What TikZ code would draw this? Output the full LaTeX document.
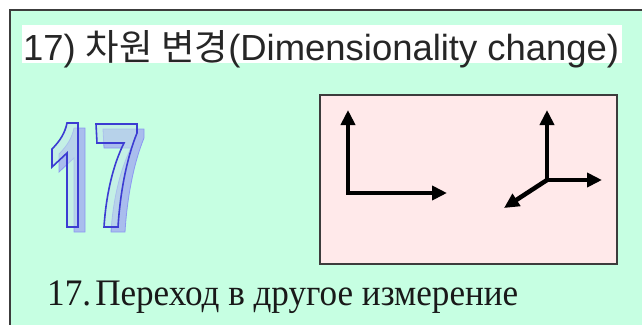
\documentclass[tikz,border=0pt]{standalone}
\usepackage{fontspec}
\usepackage{graphicx}
\setmainfont{Liberation Serif}
\newfontfamily\titlefont{Liberation Sans}
\newfontfamily\krfont{Noto Sans CJK KR}
\usetikzlibrary{arrows.meta}
\definecolor{mint}{RGB}{198,255,226}
\definecolor{pinkbox}{RGB}{255,233,234}
\definecolor{framegray}{RGB}{60,60,60}
\definecolor{digitline}{RGB}{60,60,210}
\definecolor{digitshadow}{RGB}{165,178,240}
\definecolor{digitfill}{RGB}{196,228,232}
\tikzset{
  axis/.style={line width=4.5pt,-{Triangle[length=15pt,width=14pt]}},
  shadowdigit/.style={fill=digitshadow,draw=digitshadow!80!blue,line width=0.8pt,opacity=0.85},
  maindigit/.style={fill=digitfill,fill opacity=0.55,draw=digitline,line width=1.6pt,line join=miter},
}
\begin{document}
\begin{tikzpicture}[x=1pt,y=-1pt]
\useasboundingbox (0,0) rectangle (642,324);
% outer frame
\draw[framegray,line width=1.5pt,fill=mint] (10,10) rectangle (700,380);
% title stripe
\fill[white] (22,25) rectangle (622,63);
\node[anchor=base west,inner sep=0pt,font=\titlefont\fontsize{33}{40}\selectfont,text=black!85] (title) at (23,60)
  {\resizebox{596pt}{1.1\height}{17) {\krfont 차원 변경}(Dimensionality change)}};
% big 17: shadow
\begin{scope}[shift={(7,5)}]
  \path[shadowdigit] (67,123) -- (78,123) -- (78,227) -- (67,227) -- (67,153) -- (52,167) -- (52,149)
     .. controls (60,141) and (65,133) .. cycle;
  \path[shadowdigit] (96,124) -- (137,124) -- (137,133) .. controls (126,160) and (120,195) .. (118,227)
     -- (104,227) .. controls (106,195) and (113,165) .. (124,143) -- (97,143) -- cycle;
\end{scope}
% big 17: main outline
\path[maindigit] (67,123) -- (78,123) -- (78,227) -- (67,227) -- (67,153) -- (52,167) -- (52,149)
   .. controls (60,141) and (65,133) .. cycle;
\path[maindigit] (96,124) -- (137,124) -- (137,133) .. controls (126,160) and (120,195) .. (118,227)
   -- (104,227) .. controls (106,195) and (113,165) .. (124,143) -- (97,143) -- cycle;
% pink box
\draw[framegray,line width=1.2pt,fill=pinkbox] (320,95) rectangle (617,264);
% axes
\coordinate (oA) at (348,193);
\coordinate (yA) at (348,110);
\coordinate (xA) at (447,193);
\coordinate (oB) at (547,180);
\coordinate (yB) at (547,110);
\coordinate (xB) at (602,180);
\coordinate (zB) at (504,208);
\draw[axis] (oA) -- (yA);
\draw[axis] (oA) -- (xA);
\fill (oA) ++(-2.25,-2.25) rectangle ++(4.5,4.5);
\draw[axis] (oB) -- (yB);
\draw[axis] (oB) -- (xB);
\draw[axis] (oB) -- (zB);
\fill (oB) circle (2.25pt);
% bottom text
\node[anchor=base west,inner sep=0pt,font=\fontsize{34}{40}\selectfont,text=black!90] (caption) at (47,305)
  {\resizebox{471pt}{1.1\height}{17.\hspace{0.12em}Переход в другое измерение}};
\end{tikzpicture}
\end{document}
